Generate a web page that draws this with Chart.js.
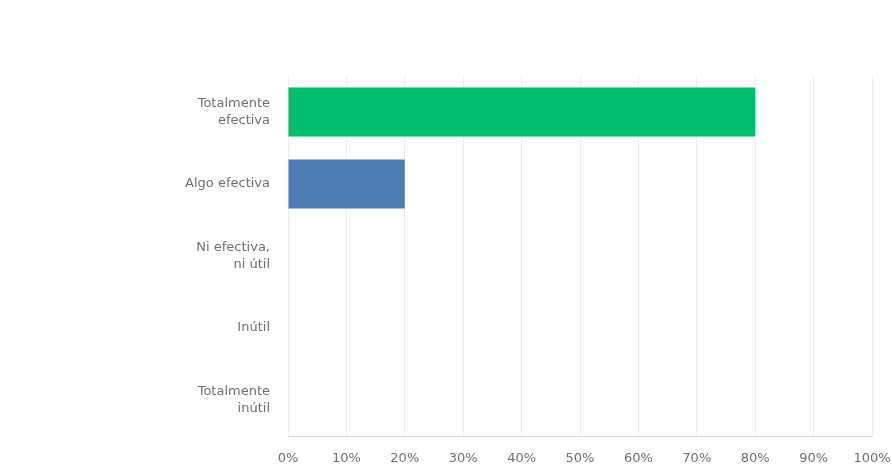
<!DOCTYPE html>
<html>
<head>
<meta charset="utf-8">
<script src="https://cdn.jsdelivr.net/npm/chart.js@4"></script>
<style>
    html, body { margin: 0; padding: 0; background: #ffffff; }
    #wrap { width: 892px; height: 471px; }
</style>
</head>
<body>
<div id="wrap"><canvas id="myChart" width="892" height="471"></canvas></div>
<script>
const categories = [
    ["Totalmente", "efectiva"],
    "Algo efectiva",
    ["Ni efectiva,", "ni útil"],
    "Inútil",
    ["Totalmente", "inútil"]
];
const respuestas = [80, 20, 0, 0, 0];
const barColors = ["#00bf6f", "#507cb6", "#00bf6f", "#00bf6f", "#00bf6f"];
const xTicks = [0, 10, 20, 30, 40, 50, 60, 70, 80, 90, 100];

const data = {
    labels: categories,
    datasets: [
        {
            label: "Respuestas",
            data: respuestas,
            backgroundColor: barColors,
            borderWidth: 0,
            barPercentage: 0.68,
            categoryPercentage: 1
        }
    ]
};

const config = {
    type: 'bar',
    data: data,
    options: {
        indexAxis: 'y',
        responsive: false,
        animation: false,
        layout: {
            padding: { left: 0, top: 76, right: 0, bottom: 0 }
        },
        plugins: {
            legend: { display: false },
            tooltip: { enabled: false }
        },
        scales: {
            x: {
                min: 0,
                max: 100,
                afterBuildTicks: function (scale) {
                    scale.ticks = xTicks.map(function (v) { return { value: v }; });
                },
                afterFit: function (scale) {
                    scale.height = 30;
                    scale.paddingRight = 20;
                },
                grid: {
                    color: '#ececec',
                    drawTicks: false
                },
                border: { display: true, color: '#dcdcdc', width: 1 },
                ticks: {
                    padding: 15,
                    color: '#707070',
                    font: { family: 'DejaVu Sans', size: 13 },
                    callback: function (v) { return v + '%'; }
                }
            },
            y: {
                afterFit: function (scale) {
                    scale.width = 288;
                },
                grid: { display: false, drawTicks: false },
                border: { display: false },
                ticks: {
                    padding: 18,
                    color: '#707070',
                    font: { family: 'DejaVu Sans', size: 13, lineHeight: 1.3 }
                }
            }
        }
    }
};

window.mychart = new Chart(document.getElementById('myChart'), config);
</script>
</body>
</html>
